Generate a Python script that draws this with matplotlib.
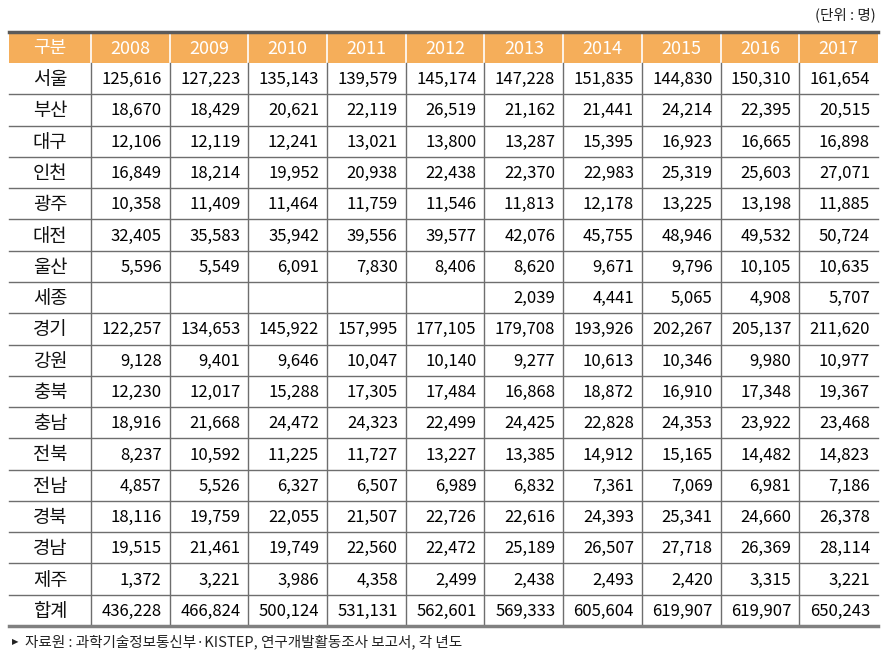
import matplotlib
matplotlib.use('Agg')
import matplotlib.pyplot as plt

plt.rcParams['font.family'] = ['Noto Sans CJK KR', 'DejaVu Sans']

years = ['2008', '2009', '2010', '2011', '2012', '2013', '2014', '2015', '2016', '2017']
regions = ['서울', '부산', '대구', '인천', '광주', '대전', '울산', '세종', '경기', '강원',
           '충북', '충남', '전북', '전남', '경북', '경남', '제주', '합계']
values = [
    ['125,616', '127,223', '135,143', '139,579', '145,174', '147,228', '151,835', '144,830', '150,310', '161,654'],
    ['18,670', '18,429', '20,621', '22,119', '26,519', '21,162', '21,441', '24,214', '22,395', '20,515'],
    ['12,106', '12,119', '12,241', '13,021', '13,800', '13,287', '15,395', '16,923', '16,665', '16,898'],
    ['16,849', '18,214', '19,952', '20,938', '22,438', '22,370', '22,983', '25,319', '25,603', '27,071'],
    ['10,358', '11,409', '11,464', '11,759', '11,546', '11,813', '12,178', '13,225', '13,198', '11,885'],
    ['32,405', '35,583', '35,942', '39,556', '39,577', '42,076', '45,755', '48,946', '49,532', '50,724'],
    ['5,596', '5,549', '6,091', '7,830', '8,406', '8,620', '9,671', '9,796', '10,105', '10,635'],
    ['', '', '', '', '', '2,039', '4,441', '5,065', '4,908', '5,707'],
    ['122,257', '134,653', '145,922', '157,995', '177,105', '179,708', '193,926', '202,267', '205,137', '211,620'],
    ['9,128', '9,401', '9,646', '10,047', '10,140', '9,277', '10,613', '10,346', '9,980', '10,977'],
    ['12,230', '12,017', '15,288', '17,305', '17,484', '16,868', '18,872', '16,910', '17,348', '19,367'],
    ['18,916', '21,668', '24,472', '24,323', '22,499', '24,425', '22,828', '24,353', '23,922', '23,468'],
    ['8,237', '10,592', '11,225', '11,727', '13,227', '13,385', '14,912', '15,165', '14,482', '14,823'],
    ['4,857', '5,526', '6,327', '6,507', '6,989', '6,832', '7,361', '7,069', '6,981', '7,186'],
    ['18,116', '19,759', '22,055', '21,507', '22,726', '22,616', '24,393', '25,341', '24,660', '26,378'],
    ['19,515', '21,461', '19,749', '22,560', '22,472', '25,189', '26,507', '27,718', '26,369', '28,114'],
    ['1,372', '3,221', '3,986', '4,358', '2,499', '2,438', '2,493', '2,420', '3,315', '3,221'],
    ['436,228', '466,824', '500,124', '531,131', '562,601', '569,333', '605,604', '619,907', '619,907', '650,243'],
]
unit_label = '(단위 : 명)'
source_label = '자료원 : 과학기술정보통신부·KISTEP, 연구개발활동조사 보고서, 각 년도'

W, H = 886, 658
fig = plt.figure(figsize=(W / 100, H / 100), dpi=100)
ax = fig.add_axes([0, 0, 1, 1])
ax.set_xlim(0, W)
ax.set_ylim(H, 0)
ax.axis('off')

x0, x1 = 9, 878
first_w = 82
col_w = (x1 - x0 - first_w) / len(years)
y_top, head_h = 32, 31
row_h = (626 - y_top - head_h) / len(regions)
edges = [x0, x0 + first_w] + [x0 + first_w + col_w * (i + 1) for i in range(len(years))]
header_color = '#F5AE5A'
line_color = '#6E6E6E'

# header band
ax.add_patch(plt.Rectangle((x0, y_top), x1 - x0, head_h, color=header_color, lw=0))
for xe in edges[1:-1]:
    ax.plot([xe, xe], [y_top, y_top + head_h], color='white', lw=1.2)
labels = ['구분'] + years
for i, lab in enumerate(labels):
    cx = (edges[i] + edges[i + 1]) / 2
    ax.text(cx, y_top + head_h / 2 + 1, lab, color='white', fontsize=13, ha='center', va='center')

body_top = y_top + head_h
body_bot = body_top + row_h * len(regions)
for xe in edges[1:-1]:
    ax.plot([xe, xe], [body_top, body_bot], color=line_color, lw=1)
for r in range(1, len(regions)):
    y = body_top + row_h * r
    ax.plot([x0, x1], [y, y], color=line_color, lw=1)
ax.plot([x0, x1], [y_top, y_top], color='#5A5A5A', lw=2.5)
ax.plot([x0, x1], [body_bot, body_bot], color='#808080', lw=2.5)

for r, name in enumerate(regions):
    cy = body_top + row_h * (r + 0.5) + 1
    ax.text((edges[0] + edges[1]) / 2, cy, name, fontsize=13.5, ha='center', va='center', color='#111111')
    for c, v in enumerate(values[r]):
        ax.text(edges[c + 2] - 8, cy, v, fontsize=12, ha='right', va='center', color='#000000')

ax.text(x1 - 2, 15, unit_label, fontsize=10.5, ha='right', va='center', color='#222222')
ax.text(12, 642, '▶', fontsize=6, ha='left', va='center', color='#222222', family=['DejaVu Sans'])
ax.text(25, 642, source_label, fontsize=10.5, ha='left', va='center', color='#222222')

fig.savefig('out.png', dpi=100)
